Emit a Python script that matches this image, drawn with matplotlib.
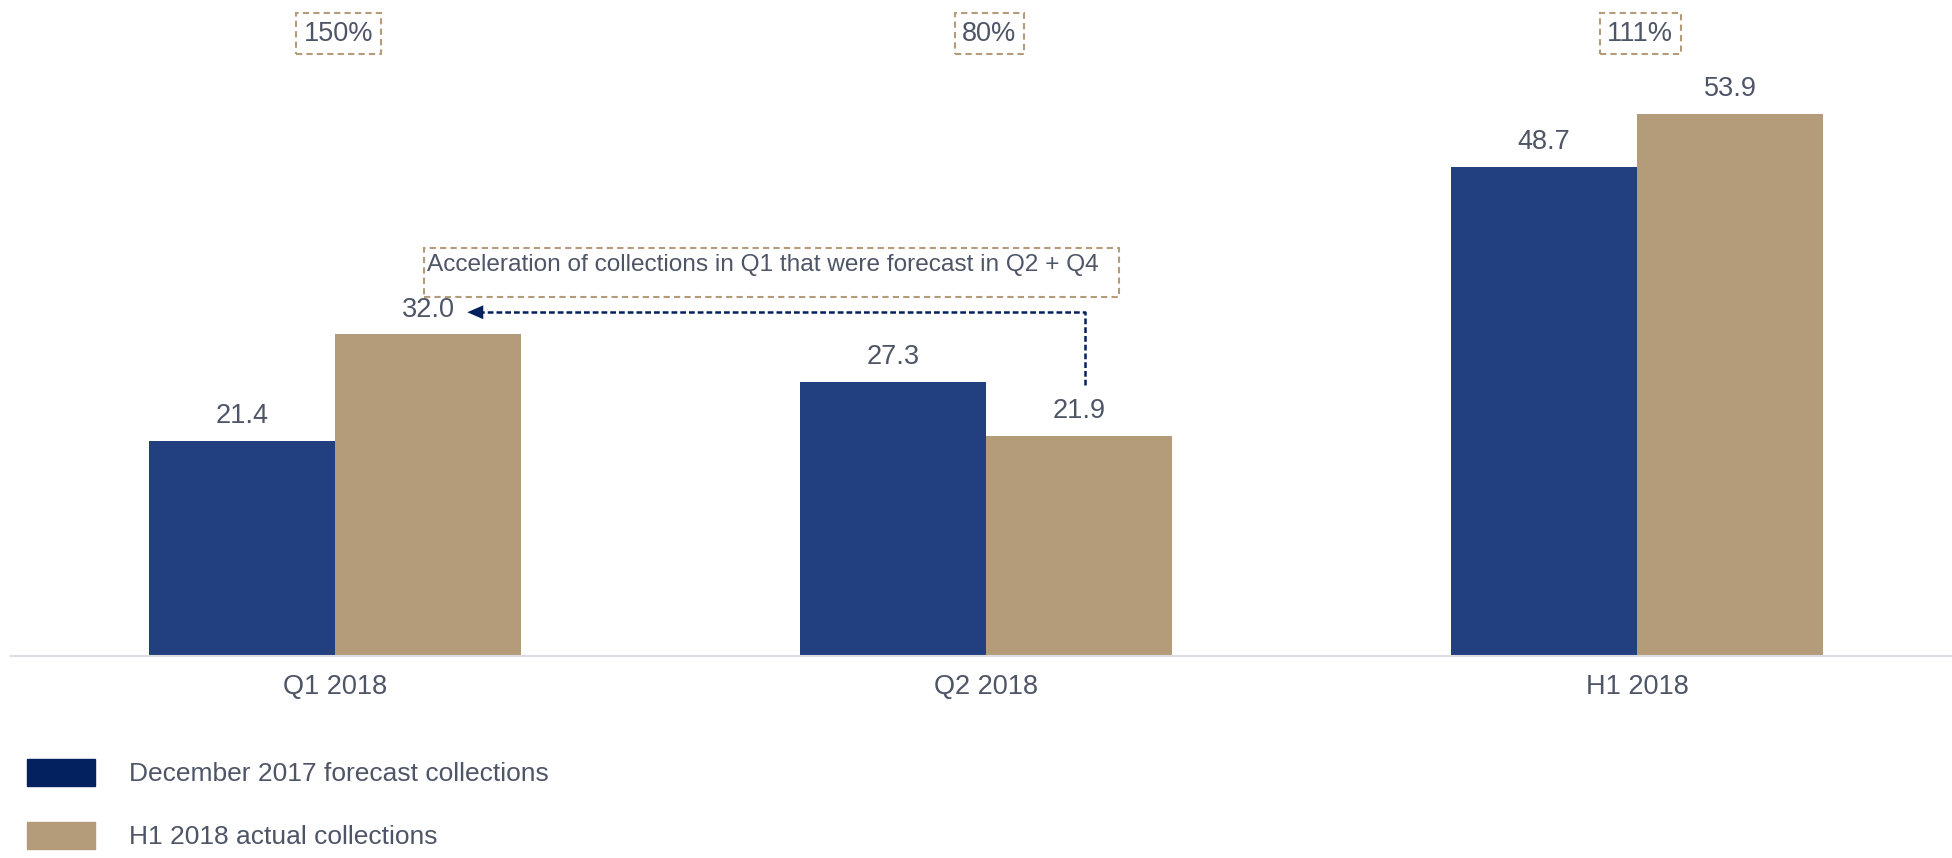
import matplotlib
matplotlib.use("Agg")
import matplotlib.pyplot as plt
from matplotlib.patches import Patch, Rectangle
import numpy as np

# chart data
categories = ["Q1 2018", "Q2 2018", "H1 2018"]
forecast = [21.4, 27.3, 48.7]
actual = [32.0, 21.9, 53.9]
ratio_labels = ["150%", "80%", "111%"]
legend_labels = ["December 2017 forecast collections", "H1 2018 actual collections"]
note = "Acceleration of collections in Q1 that were forecast in Q2 + Q4"

blue = "#223F80"
navy = "#03205F"
gold = "#B49C7A"
text_col = "#4E5567"

plt.rcParams['font.family'] = ['Liberation Sans', 'DejaVu Sans']

W, H = 1952, 858
fig = plt.figure(figsize=(W/100, H/100), dpi=100)
ax = fig.add_axes([11/W, 1 - 656/H, 1 - 11/W, 656/H])

x = np.arange(len(categories))
w = 0.286
b1 = ax.bar(x - w/2, forecast, w, color=blue)
b2 = ax.bar(x + w/2, actual, w, color=gold)

for bars, vals in ((b1, forecast), (b2, actual)):
    for r, v in zip(bars, vals):
        ax.annotate(f"{v:.1f}", (r.get_x() + r.get_width()/2, v), xytext=(0, 8.5),
                    textcoords='offset points', ha='center', va='bottom',
                    fontsize=19.5, color=text_col)

# ratio boxes on top
for xi, lab in zip(x, ratio_labels):
    ax.text(xi + 0.005, 61.9, lab, ha='center', va='center', fontsize=19.5, color=text_col,
            bbox=dict(boxstyle='square,pad=0.28', fc='none', ec=gold, lw=1.5, ls=(0, (3, 2))))

# note box + dashed arrow
ax.add_patch(Rectangle((0.137, 35.7), 1.204 - 0.137, 40.6 - 35.7, fill=False,
                       ec=gold, lw=1.5, ls=(0, (3, 2))))
ax.text(0.141, 38.3, note, ha='left', va='baseline', fontsize=17.6, color=text_col)

ax.plot([1.152, 1.152, 0.225], [27.0, 34.2, 34.2], color=navy, lw=1.8, ls=(0, (2.3, 1.2)))
ax.annotate("", xy=(0.203, 34.2), xytext=(0.235, 34.2),
            arrowprops=dict(arrowstyle='-|>,head_length=1.15,head_width=0.5',
                            mutation_scale=10, color=navy, lw=0, shrinkA=0, shrinkB=0))

ax.set_xlim(-0.498, 2.484)
ax.set_ylim(0, 65.27)
ax.set_xticks(x)
ax.set_xticklabels(categories, fontsize=19.5, color=text_col)
ax.tick_params(axis='x', length=0, pad=13)
ax.set_yticks([])
for s in ['top', 'right', 'left']:
    ax.spines[s].set_visible(False)
ax.spines['bottom'].set_color('#DCDCE2')
ax.spines['bottom'].set_linewidth(1.5)

handles = [Patch(color=navy), Patch(color=gold)]
fig.legend(handles, legend_labels, loc='upper left', bbox_to_anchor=(27/W, 1 - 759/H),
           frameon=False, fontsize=19, handlelength=2.58, handleheight=1.2,
           handletextpad=1.3, labelspacing=1.35, borderpad=0, borderaxespad=0,
           labelcolor=text_col)

fig.savefig("out.png", dpi=100)
